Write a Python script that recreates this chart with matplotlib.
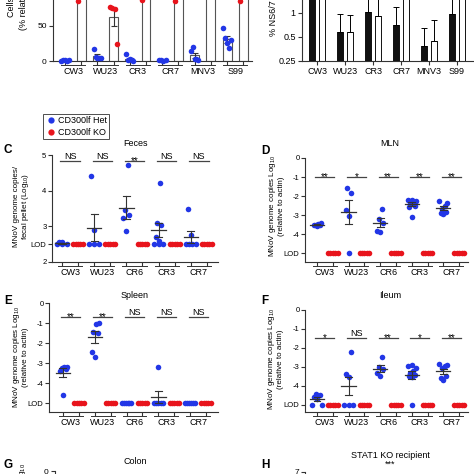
"""
Multi-panel MNoV figure (cropped view): panels A-H
"""
import numpy as np
import matplotlib
matplotlib.use("Agg")
import matplotlib.pyplot as plt
from matplotlib.lines import Line2D
from matplotlib.transforms import offset_copy

plt.rcParams['font.family'] = ['Liberation Sans', 'DejaVu Sans']
plt.rcParams['mathtext.fontset'] = 'custom'
plt.rcParams['mathtext.rm'] = 'Liberation Sans'
plt.rcParams['mathtext.it'] = 'Liberation Sans:italic'

BLUE = '#2236e6'
RED = '#e8141c'
AXC = '#333333'

# ---------------- data ----------------
# panel A (% relative)
strains_a = ['CW3', 'WU23', 'CR3', 'CR7', 'MNV3', 'S99']
a_het = [[0, 1, 2, 0, 1], [17, 6, 5, 4, 5], [10, 2, 3, 1, 0],
         [1, 1, 0, 1], [14, 20, 3, 3, 2], [47, 33, 26, 19, 30]]
a_ko = [[86, 102, 104, 108, 100], [77, 75, 74, 24], [87, 101, 105, 110],
        [85, 99, 103, 106], [96, 101, 104, 108], [86, 100, 106, 110]]

# panel B (% NS6/7, log2 axis)
b_black = [1.6, 0.57, 1.03, 0.70, 0.39, 0.97]
b_black_err = [0.3, 0.40, 0.60, 0.49, 0.26, 0.70]
b_white = [1.7, 0.57, 0.92, 1.6, 0.44, 1.6]
b_white_err = [0.3, 0.37, 0.70, 0.3, 0.38, 0.3]

strains_cf = ['CW3', 'WU23', 'CR6', 'CR3', 'CR7']

# panel C, feces (log10 copies / pellet)
c_lod = 2.5
c_het = [[2.5, 2.5, 2.55, 2.5, 2.55], [4.42, 2.89, 2.5, 2.5, 2.5],
         [4.72, 3.47, 3.33, 3.22, 2.86], [4.22, 3.1, 3.05, 2.7, 2.6, 2.5, 2.5, 2.5],
         [3.5, 2.75, 2.5, 2.5, 2.5, 2.5]]
c_ko = [[2.5] * 5, [2.5] * 5, [2.5] * 5, [2.5] * 5, [2.5] * 5]
c_sig = ['NS', 'NS', '**', 'NS', 'NS']

# panel D, MLN
d_lod = -5
d_het = [[-3.4, -3.45, -3.5, -3.5, -3.55, -3.6], [-1.56, -1.85, -2.74, -3.05, -5],
         [-2.68, -3.2, -3.4, -3.9, -3.85], [-2.2, -2.25, -2.2, -2.3, -2.4, -2.5, -2.6, -3.1],
         [-2.25, -2.35, -2.5, -2.7, -2.85, -2.95, -2.9]]
d_ko = [[-5] * 5, [-5] * 5, [-5] * 5, [-5] * 5, [-5] * 5]
d_sig = ['**', '*', '**', '**', '**']

# panel E, spleen
e_lod = -5
e_het = [[-3.2, -3.25, -3.2, -3.3, -3.4, -4.6], [-1.0, -1.05, -1.45, -1.5, -2.45, -2.7],
         [-5] * 6, [-3.2, -5, -5, -5, -5, -5], [-5] * 6]
e_ko = [[-5] * 5, [-5] * 5, [-5] * 5, [-5] * 5, [-5] * 5]
e_sig = ['**', '**', 'NS', 'NS', 'NS']

# panel F, ileum
f_lod = -5
f_het = [[-4.4, -4.45, -4.6, -4.7, -5, -5], [-2.2, -3.37, -3.55, -5, -5, -5],
         [-2.5, -3.0, -3.1, -3.3, -3.5], [-2.9, -2.95, -3.05, -3.2, -3.3, -3.4, -3.5, -3.55, -5],
         [-2.85, -2.9, -2.95, -3.05, -3.5, -3.6, -3.7]]
f_ko = [[-5] * 5, [-5] * 5, [-5] * 5, [-5] * 5, [-5] * 5]
f_sig = ['*', 'NS', '**', '*', '**']

# ---------------- figure ----------------
W = H = 474
fig = plt.figure(figsize=(W / 100, H / 100), dpi=100)


def px_axes(l, t, r, b):
    return fig.add_axes([l / W, 1 - b / H, (r - l) / W, (b - t) / H])


def ftext(x, y, s, **kw):
    return fig.text(x / W, 1 - y / H, s, **kw)


def style(ax):
    for s in ['top', 'right']:
        ax.spines[s].set_visible(False)
    for s in ['left', 'bottom']:
        ax.spines[s].set_linewidth(0.8)
        ax.spines[s].set_color(AXC)
    ax.tick_params(length=3, width=0.8, color=AXC, labelsize=6, pad=1.5)


def cat_axis(ax, labels, centers, pairs=True):
    if pairs:
        ticks = [p for c in centers for p in (c - 0.5, c + 0.5)]
    else:
        ticks = centers
    ax.set_xticks(ticks)
    ax.set_xticklabels([])
    tr_line = offset_copy(ax.get_xaxis_transform(), fig=fig, y=-4, units='dots')
    tr_txt = offset_copy(ax.get_xaxis_transform(), fig=fig, y=-6, units='dots')
    for c, lab in zip(centers, labels):
        if pairs:
            ax.add_line(Line2D([c - 0.75, c + 0.75], [0, 0], transform=tr_line,
                               color=AXC, lw=0.7, clip_on=False))
        ax.text(c, 0, lab, transform=tr_txt, ha='center', va='top', fontsize=6.5)


def swarm(ax, x, vals, lod, color):
    vals = np.asarray(vals, dtype=float)
    at_lod = np.isclose(vals, lod)
    n_lod = at_lod.sum()
    if n_lod:
        offs = np.linspace(-0.3, 0.3, n_lod) if n_lod > 1 else [0]
        ax.plot(x + np.asarray(offs), [lod] * n_lod, 'o', color=color, ms=4,
                mec='none', zorder=3, clip_on=False)
    up = np.sort(vals[~at_lod])
    pattern = [0, -0.18, 0.18, -0.09, 0.09, 0.25, -0.25]
    for j, v in enumerate(up):
        ax.plot(x + pattern[j % len(pattern)], v, 'o', color=color, ms=4,
                mec='none', zorder=3, clip_on=False)


def mean_sem(ax, x, vals):
    vals = np.asarray(vals, dtype=float)
    if vals.std() < 1e-9:
        return
    m = vals.mean()
    sem = vals.std(ddof=1) / np.sqrt(len(vals))
    ax.plot([x - 0.45, x + 0.45], [m, m], color=AXC, lw=0.9, zorder=4)
    ax.plot([x, x], [m - sem, m + sem], color=AXC, lw=0.8, zorder=4)
    for yy in (m - sem, m + sem):
        ax.plot([x - 0.22, x + 0.22], [yy, yy], color=AXC, lw=0.8, zorder=4)


def dot_panel(ax, het, ko, lod, sig, sig_y):
    for i, (h, k) in enumerate(zip(het, ko)):
        xb, xr = 2 * i, 2 * i + 1
        swarm(ax, xb, h, lod, BLUE)
        mean_sem(ax, xb, h)
        swarm(ax, xr, k, lod, RED)
        ax.plot([xb - 0.1, xr + 0.1], [sig_y, sig_y], color='#444444', lw=0.9)
        if '*' in sig[i]:
            ax.text(xb + 0.5, sig_y, sig[i], ha='center', va='center', fontsize=7)
        else:
            ax.text(xb + 0.5, sig_y, sig[i], ha='center', va='bottom', fontsize=6.5)
    cat_axis(ax, strains_cf, [2 * i + 0.5 for i in range(len(het))])


def lod_axis(ax, ticks, labels):
    ax.set_yticks(ticks)
    ax.set_yticklabels(labels)
    ax.tick_params(axis='y', labelsize=5.5, pad=1)


# ----- panel A -----
axA = px_axes(53, -44, 252, 61)
style(axA)
for i, (h, k) in enumerate(zip(a_het, a_ko)):
    for x, vals, col in ((2 * i, h, BLUE), (2 * i + 1, k, RED)):
        m = np.mean(vals)
        sem = np.std(vals, ddof=1) / np.sqrt(len(vals))
        axA.bar(x, m, width=0.55, color='white', edgecolor='#555555', lw=0.8, zorder=1)
        axA.errorbar(x, m, yerr=sem, color='#333333', lw=0.8, capsize=2, capthick=0.8, zorder=2)
        offs = np.linspace(-0.22, 0.22, len(vals))
        axA.plot(x + offs, vals, 'o', color=col, ms=4, mec='none', zorder=3, clip_on=False)
axA.set_xlim(-0.74, 11.54)
axA.set_ylim(0, 150)
axA.set_yticks([0, 50, 100, 150])
cat_axis(axA, strains_a, [2 * i + 0.5 for i in range(6)])
ftext(11, 17, 'Cells infected', rotation=90, rotation_mode='anchor', ha='left',
      va='center', fontsize=6.5)
ftext(23, 30, '(% relative to maximum)', rotation=90, rotation_mode='anchor', ha='left',
      va='center', fontsize=6.5)

# ----- panel B -----
axB = px_axes(302, -35, 490, 61)
style(axB)
xb = np.arange(6)
axB.bar(xb - 0.18, b_black, width=0.2, color='#111111', edgecolor='#111111', lw=0.7,
        yerr=[np.zeros(6), b_black_err], error_kw=dict(lw=0.7, capsize=2, capthick=0.7))
axB.bar(xb + 0.18, b_white, width=0.2, color='white', edgecolor='#111111', lw=0.7,
        yerr=[np.zeros(6), b_white_err], error_kw=dict(lw=0.7, capsize=2, capthick=0.7))
axB.set_yscale('log', base=2)
axB.set_ylim(0.25, 4)
axB.set_yticks([0.25, 0.5, 1, 2, 4])
axB.set_yticklabels(['0.25', '0.5', '1', '2', '4'])
axB.minorticks_off()
axB.set_xlim(-0.54, 6.18)
axB.tick_params(axis='y', labelsize=6.5)
cat_axis(axB, strains_a, list(xb), pairs=False)
ftext(274, 36, '% NS6/7 positive cells', rotation=90, rotation_mode='anchor',
      ha='left', va='center', fontsize=6.5)

# ----- legend -----
handles = [Line2D([], [], marker='o', ls='none', color=BLUE, ms=4.5, mec='none'),
           Line2D([], [], marker='o', ls='none', color=RED, ms=4.5, mec='none')]
leg = fig.legend(handles, ['CD300lf Het', 'CD300lf KO'], loc='upper left',
                 bbox_to_anchor=(43 / W, 1 - 114 / H), fontsize=6.5, frameon=True,
                 fancybox=False, edgecolor='#222222', borderpad=0.25,
                 handletextpad=0.2, labelspacing=0.3, handlelength=1.2,
                 borderaxespad=0)
leg.get_frame().set_linewidth(0.7)

# ----- panel C -----
axC = px_axes(52, 155, 218, 262)
style(axC)
dot_panel(axC, c_het, c_ko, c_lod, c_sig, 4.83)
axC.set_xlim(-0.62, 9.69)
axC.set_ylim(2, 5)
lod_axis(axC, [2, c_lod, 3, 4, 5], ['2', 'LOD', '3', '4', '5'])

# ----- panel D -----
axD = px_axes(305, 158, 468, 262)
style(axD)
dot_panel(axD, d_het, d_ko, d_lod, d_sig, -1.0)
axD.set_xlim(-0.76, 9.56)
axD.set_ylim(-5.47, 0)
lod_axis(axD, [d_lod, -4, -3, -2, -1, 0], ['LOD', '-4', '-3', '-2', '-1', '0'])

# ----- panel E -----
axE = px_axes(49, 303, 218, 412)
style(axE)
dot_panel(axE, e_het, e_ko, e_lod, e_sig, -0.7)
axE.set_xlim(-0.88, 9.75)
axE.set_ylim(-5.45, 0)
lod_axis(axE, [e_lod, -4, -3, -2, -1, 0], ['LOD', '-4', '-3', '-2', '-1', '0'])

# ----- panel F -----
axF = px_axes(305, 310, 468, 412)
style(axF)
dot_panel(axF, f_het, f_ko, f_lod, f_sig, -1.5)
axF.set_xlim(-0.76, 9.56)
axF.set_ylim(-5.37, 0)
lod_axis(axF, [f_lod, -4, -3, -2, -1, 0], ['LOD', '-4', '-3', '-2', '-1', '0'])

# ----- panels G / H (cut off at bottom) -----
axG = px_axes(55, 471, 218, 560)
style(axG)
axG.spines['bottom'].set_visible(False)
axG.set_ylim(-6, 0)
axG.set_yticks([0])
axG.set_xticks([])
axH = px_axes(305, 472, 468, 560)
style(axH)
axH.spines['bottom'].set_visible(False)
axH.set_ylim(0, 7)
axH.set_yticks([7])
axH.set_xticks([])

# ----- axis labels -----
ylab = 'MNoV genome copies Log$_{10}$\n(relative to actin)'
kw = dict(rotation=90, ha='center', va='center', fontsize=5.8, linespacing=0.95)
ftext(22, 206, 'MNoV genome copies/\nfecal pellet (Log$_{10}$)', **kw)
ftext(276, 206, ylab, **kw)
ftext(20, 357, ylab, **kw)
ftext(275, 359, ylab, **kw)
ftext(23, 463, 'MNoV genome copies Log$_{10}$', rotation=90, rotation_mode='anchor',
      ha='right', va='center', fontsize=6)

# ----- titles and panel letters -----
for x, y, s in [(135, 143, 'Feces'), (390, 143, 'MLN'), (135, 296, 'Spleen'),
                (390, 296, 'Ileum'), (135, 461, 'Colon'), (390, 455, 'STAT1 KO recipient')]:
    ftext(x, y, s, ha='center', va='center', fontsize=6.5)
ftext(390, 464, '***', ha='center', va='center', fontsize=6.5)
for x, y, s in [(4, 150, 'C'), (261, 151, 'D'), (4, 301, 'E'), (261, 301, 'F'),
                (4, 465, 'G'), (261, 465, 'H')]:
    ftext(x, y, s, ha='left', va='center', fontsize=8.5, fontweight='bold')

fig.savefig('out.png', dpi=100)
